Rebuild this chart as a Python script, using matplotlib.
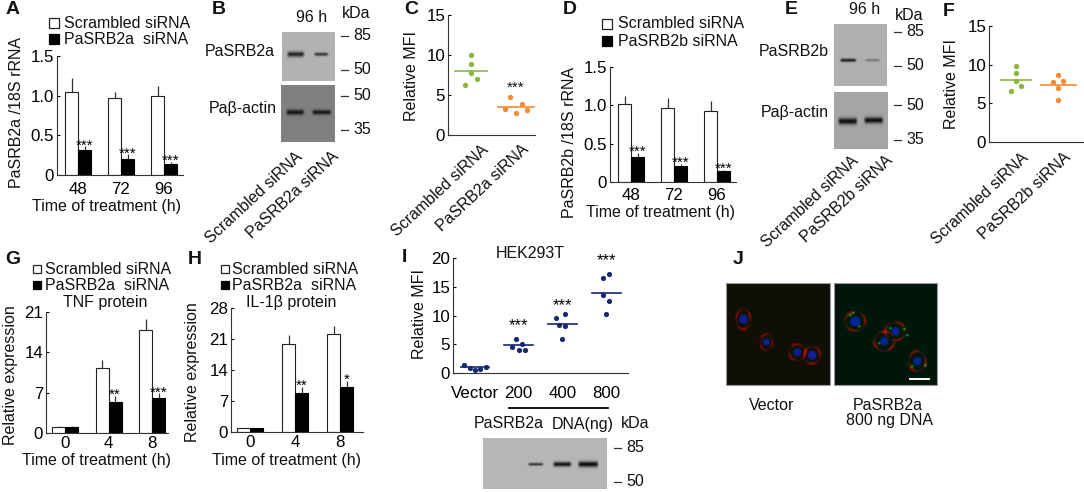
import numpy as np
import matplotlib
matplotlib.use('Agg')
import matplotlib.pyplot as plt
from matplotlib.patches import Rectangle

plt.rcParams['font.family'] = ['Liberation Sans', 'DejaVu Sans']

W, H = 1084, 492
FS = 11.5
TICK_FS = 12.2

#bar panels
times_ad = ['48', '72', '96']
times_gh = ['0', '4', '8']

a_white = [1.05, 0.97, 0.99]
a_white_err = [0.17, 0.08, 0.13]
a_black = [0.31, 0.20, 0.14]
a_black_err = [0.05, 0.06, 0.02]
a_stars = ['***', '***', '***']

d_white = [1.02, 0.96, 0.93]
d_white_err = [0.10, 0.13, 0.12]
d_black = [0.32, 0.21, 0.14]
d_black_err = [0.06, 0.02, 0.02]
d_stars = ['***', '***', '***']

g_white = [1.1, 11.3, 17.9]
g_white_err = [0.1, 1.3, 1.8]
g_black = [1.1, 5.4, 6.0]
g_black_err = [0.05, 1.0, 0.9]
g_stars = ['', '**', '***']

h_white = [0.8, 19.8, 22.2]
h_white_err = [0.1, 2.0, 1.8]
h_black = [0.8, 8.9, 10.1]
h_black_err = [0.05, 1.3, 1.4]
h_stars = ['', '**', '*']

#scatter panels, offsets are the horizontal jitter of the dots
c_green = [10.0, 8.9, 7.7, 7.0, 6.3]
c_green_off = [0, 0, 0, 0.13, -0.13]
c_orange = [4.8, 3.9, 3.2, 3.1, 2.7]
c_orange_off = [-0.13, 0.13, -0.25, 0.25, 0]

f_green = [9.8, 8.9, 7.9, 7.2, 6.6]
f_green_off = [0, 0, 0, 0.12, -0.12]
f_orange = [8.7, 7.8, 7.9, 7.0, 5.4]
f_orange_off = [0, -0.12, 0.12, 0, 0]

i_labels = ['Vector', '200', '400', '800']
i_values = [[1.4, 0.8, 0.5, 0.7, 1.0],
            [4.5, 6.0, 5.1, 4.0, 4.0],
            [9.5, 10.3, 8.4, 8.1, 5.9],
            [16.5, 17.2, 13.5, 12.5, 10.3]]
i_off = [[-0.25, -0.12, 0, 0.12, 0.25],
         [-0.15, -0.07, 0.07, 0, 0.15],
         [-0.15, 0.07, -0.08, 0.07, 0],
         [-0.08, 0.07, -0.08, 0.07, 0]]
i_means = [1.0, 4.8, 8.5, 14.0]
i_star_y = [None, 8.7, 12.3, 20.0]

fig = plt.figure(figsize=(W / 100, H / 100), dpi=100)

#full figure axes in pixel coords, used for text and the blot pictures
px = fig.add_axes([0, 0, 1, 1])
px.set_xlim(0, W)
px.set_ylim(H, 0)
px.axis('off')


def txt(x, y, s, size=FS, ha='center', va='center', **kw):
    px.text(x, y, s, fontsize=size, ha=ha, va=va, color='#111111', **kw)


def letter(x, y, s):
    txt(x, y, s, size=14, fontweight='bold')


def slanted(x, y, s):
    txt(x, y, s, ha='right', va='top', rotation=43, rotation_mode='anchor')


def make_ax(x0, x1, top, bottom, ymax, yticks, ylabels, xpad=5):
    ax = fig.add_axes([x0 / W, 1 - bottom / H, (x1 - x0) / W, (bottom - top) / H])
    ax.patch.set_alpha(0)
    ax.spines['top'].set_visible(False)
    ax.spines['right'].set_visible(False)
    for s in ['left', 'bottom']:
        ax.spines[s].set_linewidth(0.8)
        ax.spines[s].set_color('#333333')
    ax.set_ylim(0, ymax)
    ax.set_yticks(yticks)
    ax.set_yticklabels(ylabels, fontsize=TICK_FS)
    ax.tick_params(axis='y', direction='in', length=2.5, width=0.8, pad=2)
    ax.tick_params(axis='x', length=0, pad=xpad)
    return ax


def bar_panel(x0, x1, top, bottom, ymax, yticks, ylabels, c0, step, labels,
              white, white_err, black, black_err, stars, xpad=5):
    ax = make_ax(x0, x1, top, bottom, ymax, yticks, ylabels, xpad)
    ax.set_xlim((x0 - c0) / step, (x1 - c0) / step)
    pos = np.arange(len(white))
    w = 13 / step
    ax.bar(pos - w / 2, white, w, color='white', edgecolor='#222222', linewidth=0.8)
    ax.bar(pos + w / 2, black, w, color='black', edgecolor='black', linewidth=0.8)
    ax.errorbar(pos - w / 2, white, yerr=[np.zeros(3), white_err], fmt='none',
                ecolor='#333333', elinewidth=0.9, capsize=0)
    ax.errorbar(pos + w / 2, black, yerr=[np.zeros(3), black_err], fmt='none',
                ecolor='#333333', elinewidth=0.9, capsize=0)
    for p, b, e, s in zip(pos, black, black_err, stars):
        if s:
            ax.text(p + w / 2, b + e - ymax * 0.05, s, ha='center', va='bottom', fontsize=11)
    ax.set_xticks(pos)
    ax.set_xticklabels(labels, fontsize=TICK_FS)
    return ax


def dot_panel(x0, x1, top, bottom, c0, step, green, green_off, orange, orange_off):
    ax = make_ax(x0, x1, top, bottom, 15, [0, 5, 10, 15], ['0', '5', '10', '15'])
    ax.set_xlim((x0 - c0) / step, (x1 - c0) / step)
    ax.scatter(np.array(green_off), green, s=15, color='#8ab83c', linewidths=0)
    ax.scatter(1 + np.array(orange_off), orange, s=15, color='#f58a32', linewidths=0)
    ax.plot([-0.35, 0.35], [np.mean(green)] * 2, color='#8ab83c', lw=1.2)
    ax.plot([0.59, 1.41], [np.mean(orange)] * 2, color='#f58a32', lw=1.2)
    ax.set_xticks([])
    return ax


def legend(x, y1, y2, size, label1, label2, xtext):
    px.add_patch(Rectangle((x, y1 - size / 2), size, size, fc='white', ec='#222222', lw=0.9))
    px.add_patch(Rectangle((x, y2 - size / 2), size, size, fc='black', ec='black', lw=0.9))
    txt(xtext, y1, label1, ha='left')
    txt(xtext, y2, label2, ha='left')


def blot(x0, x1, y0, y1, gray, bands):
    #bands are (left, right, y centre, half thickness, darkness) in pixels
    xx, yy = np.meshgrid(np.arange(x0, x1, 0.5), np.arange(y0, y1, 0.5))
    img = np.full(xx.shape, float(gray))
    for a, b, yc, t, d in bands:
        across = np.clip((xx - a) / 3, 0, 1) * np.clip((b - xx) / 3, 0, 1)
        img -= d * across * np.exp(-((yy - yc) / t) ** 2)
    px.imshow(img, extent=(x0, x1, y1, y0), cmap='gray', vmin=0, vmax=255,
              aspect='auto', interpolation='bilinear')


def kda_marks(x, items):
    for y, s in items:
        px.plot([x, x + 7], [y, y], color='#333333', lw=0.9)
        txt(x + 12, y, s, ha='left')


def cells_image(x0, x1, y0, y1, cells, dots, base):
    #fluorescence picture built from ellipses, (x, y, nucleus r, ring rx, ring ry) in pixels
    xx, yy = np.meshgrid(np.arange(x0, x1, 0.5), np.arange(y0, y1, 0.5))
    img = np.ones(xx.shape + (3,)) * np.array(base)
    for cx, cy, rn, rx, ry in cells:
        d = np.hypot(xx - cx, yy - cy)
        ring = np.hypot((xx - cx) / rx, (yy - cy) / ry)
        theta = np.arctan2(yy - cy, xx - cx)
        patchy = 0.6 + 0.4 * np.cos(3 * theta + cx)
        img[..., 0] += 0.5 * patchy * np.exp(-((ring - 1) / 0.14) ** 2)
        img[..., 2] += 0.55 * np.clip((rn - d) / 2, 0, 1)
        img[..., 1] += 0.06 * np.clip((rn - d) / 2, 0, 1)
    for cx, cy in dots:
        d = np.hypot(xx - cx, yy - cy)
        img[..., 1] += 0.8 * np.exp(-(d / 1.0) ** 2)
    px.imshow(np.clip(img, 0, 1), extent=(x0, x1, y1, y0), aspect='auto',
              interpolation='bilinear')
    px.add_patch(Rectangle((x0, y0), x1 - x0, y1 - y0, fc='none', ec='#999999', lw=0.8))


#panel A
bar_panel(57, 183, 56, 175, 1.5, [0, 0.5, 1, 1.5], ['0', '0.5', '1.0', '1.5'], 78, 43,
          times_ad, a_white, a_white_err, a_black, a_black_err, a_stars)
legend(49, 23, 39, 10, 'Scrambled siRNA', 'PaSRB2a  siRNA', 64)
txt(17, 112, 'PaSRB2a /18S rRNA', rotation=90)
txt(107, 206, 'Time of treatment (h)')
letter(13, 10, 'A')

#panel B
blot(282, 335, 32, 81, 178, [(286, 305, 54, 2.6, 140), (313, 329, 54, 1.6, 130)])
blot(281, 335, 85, 142, 128, [(285, 305, 112, 2.6, 105), (311, 332, 112, 2.4, 105)])
txt(275, 52, 'PaSRB2a', ha='right')
txt(277, 109, 'Paβ-actin', ha='right')
txt(312, 17, '96 h')
txt(342, 14, 'kDa', ha='left')
kda_marks(341, [(36, '85'), (70, '50'), (96, '50'), (130, '35')])
slanted(295, 149, 'Scrambled siRNA')
slanted(331, 149, 'PaSRB2a siRNA')
letter(219, 10, 'B')

#panel C
dot_panel(448, 535, 15, 135, 471, 45, c_green, c_green_off, c_orange, c_orange_off)
txt(412, 76, 'Relative MFI', rotation=90)
txt(516, 88, '***', size=11)
letter(411, 10, 'C')
slanted(481, 142, 'Scrambled siRNA')
slanted(521, 142, 'PaSRB2a siRNA')

#panel D
bar_panel(610, 736, 67, 182, 1.5, [0, 0.5, 1, 1.5], ['0', '0.5', '1.0', '1.5'], 631, 43,
          times_ad, d_white, d_white_err, d_black, d_black_err, d_stars, xpad=4)
legend(602, 24, 41, 10, 'Scrambled siRNA', 'PaSRB2b siRNA', 618)
txt(570, 143, 'PaSRB2b /18S rRNA', rotation=90)
txt(660, 213, 'Time of treatment (h)')
letter(570, 10, 'D')

#panel E
blot(834, 887, 24, 86, 176, [(839, 857, 60, 1.6, 150), (864, 881, 60, 1.3, 60)])
blot(834, 888, 92, 149, 165, [(837, 858, 121, 3.2, 150), (863, 884, 120, 3.0, 150)])
txt(829, 52, 'PaSRB2b', ha='right')
txt(829, 113, 'Paβ-actin', ha='right')
txt(865, 9, '96 h')
txt(895, 16, 'kDa', ha='left')
kda_marks(894, [(32, '85'), (66, '50'), (105, '50'), (140, '35')])
slanted(851, 153, 'Scrambled siRNA')
slanted(885, 153, 'PaSRB2b siRNA')
letter(791, 10, 'E')

#panel F
dot_panel(989, 1084, 26, 142, 1015.7, 42.5, f_green, f_green_off, f_orange, f_orange_off)
txt(952, 84, 'Relative MFI', rotation=90)
letter(949, 11, 'F')
slanted(1021, 150, 'Scrambled siRNA')
slanted(1063, 150, 'PaSRB2b siRNA')

#panel G
bar_panel(46, 168, 312, 433, 21, [0, 7, 14, 21], ['0', '7', '14', '21'], 65, 43.5,
          times_gh, g_white, g_white_err, g_black, g_black_err, g_stars, xpad=2)
legend(33, 269, 285, 8, 'Scrambled siRNA', 'PaSRB2a  siRNA', 45)
txt(105, 302, 'TNF protein')
txt(11, 375, 'Relative expression', rotation=90)
txt(96, 461, 'Time of treatment (h)')
letter(13, 259, 'G')

#panel H
bar_panel(231, 363, 308, 432, 28, [0, 7, 14, 21, 28], ['0', '7', '14', '21', '28'], 250, 45,
          times_gh, h_white, h_white_err, h_black, h_black_err, h_stars, xpad=2)
legend(221, 269, 285, 8, 'Scrambled siRNA', 'PaSRB2a  siRNA', 232)
txt(291, 302, 'IL-1β protein')
txt(193, 372, 'Relative expression', rotation=90)
txt(286, 461, 'Time of treatment (h)')
letter(195, 259, 'H')

#panel I
ax_i = make_ax(453, 628, 258, 373, 20, [0, 5, 10, 15, 20], ['0', '5', '10', '15', '20'], xpad=9)
ax_i.set_xlim((453 - 475) / 43.7, (628 - 475) / 43.7)
for k, vals in enumerate(i_values):
    ax_i.scatter(k + np.array(i_off[k]), vals, s=14, color='#14286e', linewidths=0)
    ax_i.plot([k - 0.33, k + 0.33], [i_means[k]] * 2, color='#14286e', lw=1.2)
    if i_star_y[k] is not None:
        ax_i.text(k, i_star_y[k] - 0.5, '***', ha='center', va='center', fontsize=12, clip_on=False)
ax_i.set_xticks(range(4))
ax_i.set_xticklabels(i_labels, fontsize=TICK_FS)
txt(530, 253, 'HEK293T')
txt(419, 314, 'Relative MFI', rotation=90)
letter(404, 258, 'I')
px.plot([509, 608], [408, 408], color='black', lw=1.3)
txt(509, 424, 'PaSRB2a')
txt(583, 424, 'DNA(ng)')
txt(635, 424, 'kDa')
blot(483, 607, 438, 489, 182, [(527, 544, 464, 1.4, 130), (552, 572, 464, 2.3, 165), (577, 599, 464, 2.8, 170)])
kda_marks(614, [(448, '85'), (482, '50')])

#panel J
cells_image(726, 830, 283, 385,
            [(743, 319, 5.5, 7, 10), (766, 342, 4.5, 6, 8), (797, 352, 5, 8, 8), (812, 355, 5.5, 8, 8.5)],
            [], (0.06, 0.06, 0.02))
cells_image(834, 937, 283, 385,
            [(855, 321, 6, 10, 9.5), (895, 331, 5, 10, 9), (884, 341, 5, 10, 9.5), (917, 361, 5, 8.5, 10)],
            [(850, 315), (853, 313), (859, 326), (904, 329), (907, 335), (879, 343), (890, 328), (912, 366), (925, 365)],
            (0.0, 0.09, 0.04))
px.plot([910, 929], [379, 379], color='white', lw=1.4)
txt(772, 405, 'Vector')
txt(888, 405, 'PaSRB2a')
txt(889, 421, '800 ng DNA')
letter(738, 260, 'J')

px.set_xlim(0, W)
px.set_ylim(H, 0)

fig.savefig('out.png', dpi=100)
